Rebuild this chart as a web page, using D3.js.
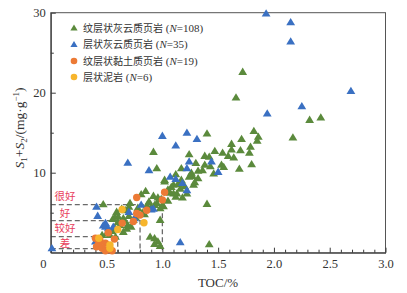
<!DOCTYPE html>
<html><head><meta charset="utf-8">
<script src="https://cdn.jsdelivr.net/npm/d3@7"></script>
<style>body{margin:0;background:#fff}svg{display:block}</style>
</head><body>
<svg id="c" width="407" height="293"></svg>
<script>
// ---- data ----
const seriesNames = ["纹层状灰云质页岩", "层状灰云质页岩", "纹层状黏土质页岩", "层状泥岩"];
const seriesN = [108, 35, 19, 6];
const xTicks = [0, 0.5, 1.0, 1.5, 2.0, 2.5, 3.0];
const yTicks = [10, 20, 30];
const gradeLabels = ["很好", "好", "较好", "差"];
const gradeLabelY = [7.0, 4.9, 3.0, 1.2];
const gradeTOC = [1.0, 0.8, 0.6, 0.4];
const gradeS = [6, 4, 2, 0.5];

const greenPts = [
[1.72,22.6],[1.66,19.4],[2.32,16.6],[2.42,16.9],[2.17,14.4],[1.40,14.9],[1.82,15.2],[1.86,14.5],[1.85,14.0],[1.71,14.2],
[1.62,13.6],[1.79,13.25],[1.47,12.7],[1.54,12.5],[1.62,12.9],[1.70,12.8],[1.78,12.5],[1.38,12.1],[1.42,12.0],[1.59,12.1],
[1.64,11.9],[1.24,12.3],[0.92,12.6],[1.30,11.2],[1.38,11.0],[1.43,10.8],[1.53,11.0],[1.55,10.7],[1.69,10.5],[1.80,11.05],
[1.17,10.55],[0.95,10.55],[1.32,10.25],[1.36,10.3],[1.46,9.9],[1.24,9.5],[1.27,9.6],[1.32,9.3],[1.02,9.1],[1.17,9.1],
[1.10,8.5],[1.14,8.6],[1.28,8.5],[1.29,8.8],[1.13,7.4],[1.07,7.5],[1.22,7.4],[0.85,7.7],[0.81,7.3],[1.10,7.4],
[0.96,6.9],[1.05,6.5],[1.01,5.8],[0.95,6.2],[0.47,6.05],[0.90,5.75],[0.98,5.55],[0.71,6.2],[0.70,5.75],[0.67,5.3],
[0.86,5.9],[0.93,5.96],[0.99,6.7],[1.00,5.95],[1.40,6.1],[0.98,4.1],[0.605,4.5],[0.65,4.3],[0.575,4.5],[0.555,4.2],
[0.74,4.1],[0.46,2.2],[0.53,2.2],[0.575,3.05],[0.62,3.45],[0.69,3.45],[0.72,3.25],[0.59,5.1],[0.635,5.5],[0.89,2.0],
[0.93,1.8],[0.96,1.4],[0.93,1.1],[0.98,0.85],[1.42,1.05],[1.02,8.9],[1.08,8.2],[1.16,8.0],[1.20,8.3],[1.05,7.9],
[1.12,7.0],[1.18,6.9],[0.88,6.4],[0.92,7.1],[0.78,5.6],[0.82,5.0],[0.66,4.0],[0.70,4.6],[0.60,3.8],[0.55,2.7],
[0.50,2.4],[0.58,2.0],[0.65,2.6],[0.76,4.4],[0.84,4.8],[0.68,3.0],[1.26,10.0],[1.12,9.8]
];
const bluePts = [
[1.93,29.9],[2.15,28.8],[2.15,26.4],[2.69,20.2],[2.25,18.3],[1.94,17.4],[1.00,14.6],[1.22,15.0],[1.31,14.2],[1.12,13.4],
[1.24,11.4],[1.44,11.4],[1.22,10.55],[1.50,10.1],[1.07,9.5],[1.12,9.2],[1.18,8.7],[1.22,7.8],[0.69,11.25],[0.88,10.3],
[0.41,5.75],[0.42,4.6],[0.81,6.0],[0.92,5.5],[0.70,5.1],[0.75,4.3],[0.56,3.25],[0.49,3.25],[0.515,3.05],[0.47,3.4],
[0.40,1.4],[0.01,0.55],[1.16,1.3],[0.90,5.4],[0.49,3.7]
];
const orangePts = [
[1.02,7.55],[1.00,6.6],[0.77,6.9],[0.86,5.3],[0.77,4.9],[0.80,4.7],[0.64,3.7],[0.74,3.9],[0.515,2.5],[0.40,1.8],
[0.44,1.6],[0.49,1.2],[0.43,1.2],[0.41,0.75],[0.50,0.35],[0.46,0.55],[0.55,0.25],[0.49,0.25],[0.57,1.7]
];
const yellowPts = [[0.64,5.4],[0.60,2.9],[0.835,3.75],[0.43,1.8],[0.53,0.55],[0.53,0.96]];

const colors = ["#5b8a3c", "#3a70c2", "#ec7a35", "#f7b52c"];
const shapes = ["tri", "tri", "circle", "circle"];
const allSeries = [greenPts, bluePts, orangePts, yellowPts];

// ---- chart ----
const svg = d3.select("#c");
const x = d3.scaleLinear().domain([0, 3]).range([50.8, 385.5]);
const y = d3.scaleLinear().domain([0, 30]).range([252.7, 12.7]);
const serif = "'Liberation Serif','Times New Roman',serif";
const cjk = "'Noto Sans CJK SC','Noto Sans',sans-serif";
const axisColor = "#3a3a3a";

// frame
svg.append("rect").attr("x", x(0)).attr("y", y(30)).attr("width", x(3) - x(0)).attr("height", y(0) - y(30))
  .attr("fill", "none").attr("stroke", "#555").attr("stroke-width", 1);

// grade dashed lines
const dash = svg.append("g").attr("stroke", "#6a6a6a").attr("stroke-width", 1.3).attr("stroke-dasharray", "5,3").attr("fill", "none");
gradeTOC.forEach((t, i) => {
  dash.append("path").attr("d", `M${x(0)},${y(gradeS[i])}H${x(t)}V${y(0)}`);
});

// axes
const xAxis = svg.append("g").attr("transform", `translate(0,${y(0)})`)
  .call(d3.axisBottom(x).tickValues(xTicks).tickSize(-5).tickSizeOuter(0).tickPadding(6)
    .tickFormat(d => d === 0 ? "0" : d3.format(".1f")(d)));
svg.append("g").attr("transform", `translate(0,${y(0)})`)
  .call(d3.axisBottom(x).tickValues(d3.range(1, 30).map(i => i / 10).filter(v => Math.abs(v * 2 - Math.round(v * 2)) > 1e-6)).tickSize(-3).tickFormat(""))
  .call(g => g.select(".domain").remove());
const yAxis = svg.append("g").attr("transform", `translate(${x(0)},0)`)
  .call(d3.axisLeft(y).tickValues(yTicks).tickSize(-5).tickSizeOuter(0).tickPadding(5));
svg.append("g").attr("transform", `translate(${x(0)},0)`)
  .call(d3.axisLeft(y).tickValues([5, 15, 25]).tickSize(-3).tickFormat(""))
  .call(g => g.select(".domain").remove());
svg.selectAll(".tick line, .domain").attr("stroke", axisColor);
svg.selectAll(".tick text").attr("font-family", serif).attr("font-size", 12.5).attr("fill", "#333");
xAxis.selectAll(".tick text").filter(d => d === 0).attr("dx", -8);

// axis titles
svg.append("text").attr("x", 218).attr("y", 287).attr("text-anchor", "middle")
  .attr("font-family", serif).attr("font-size", 13).attr("fill", "#333").text("TOC/%");
const yt = svg.append("text").attr("transform", "translate(24,128) rotate(-90)").attr("text-anchor", "middle")
  .attr("font-family", serif).attr("font-size", 13.5).attr("fill", "#333");
yt.append("tspan").attr("font-style", "italic").text("S");
yt.append("tspan").attr("font-size", 9).attr("dy", 3).text("1");
yt.append("tspan").attr("dy", -3).text("+");
yt.append("tspan").attr("font-style", "italic").text("S");
yt.append("tspan").attr("font-size", 9).attr("dy", 3).text("2");
yt.append("tspan").attr("dy", -3).text("/(mg·g");
yt.append("tspan").attr("font-size", 9).attr("dy", -5).text("−1");
yt.append("tspan").attr("dy", 5).text(")");

// grade labels
svg.append("g").selectAll("text").data(gradeLabels).join("text")
  .attr("x", 65).attr("y", (d, i) => y(gradeLabelY[i])).attr("dy", "0.35em").attr("text-anchor", "middle")
  .attr("font-family", cjk).attr("font-size", 10.5).attr("fill", "#e8405c").text(d => d);

// points
const triPath = "M0,-4.3L4.4,3L-4.4,3Z";
allSeries.forEach((pts, si) => {
  const g = svg.append("g");
  if (shapes[si] === "tri") {
    g.selectAll("path").data(pts).join("path").attr("d", triPath)
      .attr("transform", d => `translate(${x(d[0])},${y(d[1])})`).attr("fill", colors[si]);
  } else {
    g.selectAll("circle").data(pts).join("circle").attr("cx", d => x(d[0])).attr("cy", d => y(d[1]))
      .attr("r", 3.7).attr("fill", colors[si]);
  }
});

// legend
const leg = svg.append("g");
const legY = [28, 44.5, 61, 77];
seriesNames.forEach((name, i) => {
  const cy = legY[i];
  if (shapes[i] === "tri") leg.append("path").attr("d", "M0,-3.5L3.6,2.5L-3.6,2.5Z").attr("transform", `translate(74,${cy})`).attr("fill", colors[i]);
  else leg.append("circle").attr("cx", 74).attr("cy", cy).attr("r", 3.3).attr("fill", colors[i]);
  const t = leg.append("text").attr("x", 83).attr("y", cy).attr("dy", "0.35em").attr("fill", "#333").attr("font-size", 10);
  t.append("tspan").attr("font-family", cjk).text(name);
  t.append("tspan").attr("font-family", serif).attr("font-size", 11).text(" (");
  t.append("tspan").attr("font-family", serif).attr("font-size", 11).attr("font-style", "italic").text("N");
  t.append("tspan").attr("font-family", serif).attr("font-size", 11).text("=" + seriesN[i] + ")");
});
</script>
</body></html>
